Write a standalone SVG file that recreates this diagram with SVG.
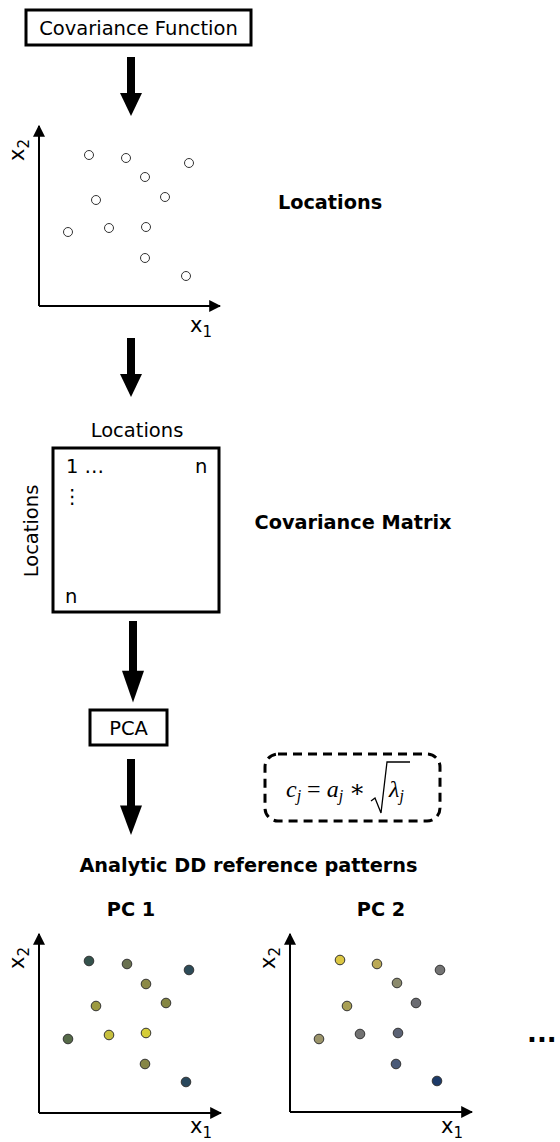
<svg xmlns="http://www.w3.org/2000/svg" width="560" height="1142" viewBox="0 0 560 1142">
<style>
text{font-family:"DejaVu Sans",sans-serif;fill:#000}
.t{font-size:19.5px}
.b{font-size:19.3px;font-weight:bold}
.ax{font-size:21px}
.box{fill:#fff;stroke:#000;stroke-width:3}
.axis{stroke:#000;stroke-width:2;fill:none}
.pt{stroke:#333;stroke-width:1}
.open{fill:#fff;stroke:#333;stroke-width:1}
.m{font-family:"Liberation Serif","DejaVu Serif",serif;font-style:italic;font-size:24px}
</style>
<defs>
<marker id="ah2" viewBox="0 0 10 10" refX="9" refY="5" markerWidth="12" markerHeight="12" markerUnits="userSpaceOnUse" orient="auto"><path d="M0,0L10,5L0,10Z" fill="#000"/></marker>
<g id="bigArrow"><rect x="-4" y="0" width="8" height="37" fill="#000"/><path d="M-11,36L11,36L0,59Z" fill="#000"/></g>
</defs>

<g id="covFunction">
<rect class="box" x="26" y="10" width="225" height="35"/>
<text class="t" x="138.5" y="35" text-anchor="middle">Covariance Function</text>
</g>

<g id="connectors">
<use href="#bigArrow" x="131" y="57"/>
<use href="#bigArrow" x="131" y="338"/>
<g transform="translate(133,621) scale(1,1.38)"><use href="#bigArrow"/></g>
<g transform="translate(131,759) scale(1,1.29)"><use href="#bigArrow"/></g>
</g>

<g id="locationsPlot">
<path class="axis" d="M39,306V126" marker-end="url(#ah2)"/>
<path class="axis" d="M39,306H220" marker-end="url(#ah2)"/>
<text class="ax" transform="translate(24,161) rotate(-90)">x<tspan font-size="15" dy="5">2</tspan></text>
<text class="ax" x="190" y="332">x<tspan font-size="15" dy="5">1</tspan></text>
<circle class="open" cx="89" cy="155" r="4.5"/>
<circle class="open" cx="126" cy="158" r="4.5"/>
<circle class="open" cx="189" cy="163" r="4.5"/>
<circle class="open" cx="145" cy="177" r="4.5"/>
<circle class="open" cx="96" cy="200" r="4.5"/>
<circle class="open" cx="165" cy="197" r="4.5"/>
<circle class="open" cx="68" cy="232" r="4.5"/>
<circle class="open" cx="109" cy="228" r="4.5"/>
<circle class="open" cx="146" cy="227" r="4.5"/>
<circle class="open" cx="145" cy="258" r="4.5"/>
<circle class="open" cx="186" cy="276" r="4.5"/>
</g>
<g id="locationsLabel"><text class="b" x="330" y="209" text-anchor="middle">Locations</text></g>

<g id="covMatrix">
<text class="t" x="137" y="437" text-anchor="middle">Locations</text>
<text class="t" transform="translate(38,531) rotate(-90)" text-anchor="middle">Locations</text>
<rect class="box" x="53" y="448" width="166" height="164"/>
<text class="t" x="66" y="473">1 …</text>
<text class="t" x="195" y="473">n</text>
<text class="t" x="72" y="503" text-anchor="middle">⋮</text>
<text class="t" x="65" y="603">n</text>
</g>
<g id="covMatrixLabel"><text class="b" x="353" y="529" text-anchor="middle">Covariance Matrix</text></g>

<g id="pca">
<rect class="box" x="90" y="710" width="77" height="35"/>
<text class="t" x="128.5" y="735" text-anchor="middle">PCA</text>
</g>

<g id="formula">
<rect x="265" y="754" width="175" height="67" rx="13" fill="none" stroke="#000" stroke-width="3" stroke-dasharray="9,6"/>
<text class="m" x="286" y="797">c<tspan font-size="16" dy="4">j</tspan><tspan dy="-4" font-style="normal"> = </tspan>a<tspan font-size="16" dy="4">j</tspan><tspan dy="-4" font-style="normal"> ∗</tspan></text>
<polyline points="371,801 375,798 381,813 387,762 410,762" fill="none" stroke="#000" stroke-width="1.3"/>
<text class="m" x="389" y="797">λ<tspan font-size="16" dy="4">j</tspan></text>
</g>

<g id="patternsTitle"><text class="b" x="248.5" y="872" text-anchor="middle">Analytic DD reference patterns</text></g>

<g id="pc1">
<text class="b" x="131" y="916" text-anchor="middle">PC 1</text>
<path class="axis" d="M39,1113V934" marker-end="url(#ah2)"/>
<path class="axis" d="M39,1113H221" marker-end="url(#ah2)"/>
<text class="ax" transform="translate(24,969) rotate(-90)">x<tspan font-size="15" dy="5">2</tspan></text>
<text class="ax" x="190" y="1133">x<tspan font-size="15" dy="5">1</tspan></text>
<circle class="pt" cx="89" cy="961" r="4.8" fill="#34524c"/>
<circle class="pt" cx="127" cy="964" r="4.8" fill="#6a7150"/>
<circle class="pt" cx="189" cy="970" r="4.8" fill="#2d4b58"/>
<circle class="pt" cx="146" cy="984" r="4.8" fill="#8c8a47"/>
<circle class="pt" cx="96" cy="1006" r="4.8" fill="#9c9a40"/>
<circle class="pt" cx="166" cy="1003" r="4.8" fill="#858642"/>
<circle class="pt" cx="68" cy="1039" r="4.8" fill="#566a48"/>
<circle class="pt" cx="109" cy="1035" r="4.8" fill="#c6bf3e"/>
<circle class="pt" cx="146" cy="1033" r="4.8" fill="#d5cd38"/>
<circle class="pt" cx="145" cy="1064" r="4.8" fill="#868646"/>
<circle class="pt" cx="186" cy="1082" r="4.8" fill="#28475c"/>
</g>

<g id="pc2">
<text class="b" x="381" y="916" text-anchor="middle">PC 2</text>
<path class="axis" d="M290,1112V934" marker-end="url(#ah2)"/>
<path class="axis" d="M290,1112H472" marker-end="url(#ah2)"/>
<text class="ax" transform="translate(275,969) rotate(-90)">x<tspan font-size="15" dy="5">2</tspan></text>
<text class="ax" x="441" y="1133">x<tspan font-size="15" dy="5">1</tspan></text>
<circle class="pt" cx="340" cy="960" r="4.8" fill="#dcc743"/>
<circle class="pt" cx="377" cy="964" r="4.8" fill="#bba955"/>
<circle class="pt" cx="440" cy="970" r="4.8" fill="#737373"/>
<circle class="pt" cx="397" cy="983" r="4.8" fill="#8b8a6c"/>
<circle class="pt" cx="347" cy="1006" r="4.8" fill="#a89f54"/>
<circle class="pt" cx="416" cy="1003" r="4.8" fill="#6b6c72"/>
<circle class="pt" cx="319" cy="1039" r="4.8" fill="#9b946a"/>
<circle class="pt" cx="360" cy="1034" r="4.8" fill="#727272"/>
<circle class="pt" cx="398" cy="1033" r="4.8" fill="#5b6274"/>
<circle class="pt" cx="396" cy="1064" r="4.8" fill="#4a5a78"/>
<circle class="pt" cx="437" cy="1081" r="4.8" fill="#1c3a68"/>
</g>

<g id="more"><text x="527" y="1042" font-size="26" font-weight="bold">...</text></g>
</svg>
